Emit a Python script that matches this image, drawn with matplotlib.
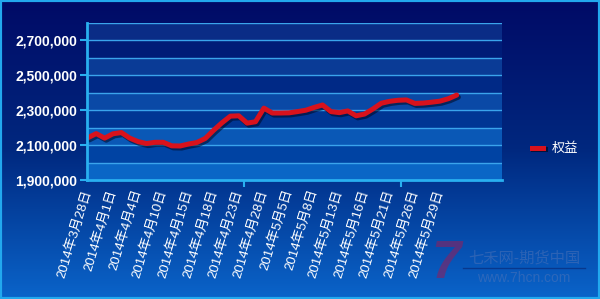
import numpy as np
import matplotlib
matplotlib.use("Agg")
import matplotlib.pyplot as plt
from matplotlib.lines import Line2D
from matplotlib.patches import Rectangle
import matplotlib.patheffects as pe
from matplotlib.colors import LinearSegmentedColormap, to_rgb

plt.rcParams['font.family'] = ['Liberation Sans', 'Noto Sans CJK SC', 'DejaVu Sans']

# ---- data ----
dates = ["2014年3月28日", "2014年3月29日", "2014年3月31日", "2014年4月1日", "2014年4月2日",
         "2014年4月3日", "2014年4月4日", "2014年4月8日", "2014年4月9日", "2014年4月10日",
         "2014年4月11日", "2014年4月14日", "2014年4月15日", "2014年4月16日", "2014年4月17日",
         "2014年4月18日", "2014年4月21日", "2014年4月22日", "2014年4月23日", "2014年4月24日",
         "2014年4月25日", "2014年4月28日", "2014年4月29日", "2014年4月30日", "2014年5月5日",
         "2014年5月6日", "2014年5月7日", "2014年5月8日", "2014年5月9日", "2014年5月12日",
         "2014年5月13日", "2014年5月14日", "2014年5月15日", "2014年5月16日", "2014年5月19日",
         "2014年5月20日", "2014年5月21日", "2014年5月22日", "2014年5月23日", "2014年5月26日",
         "2014年5月27日", "2014年5月28日", "2014年5月29日", "2014年5月30日", "2014年6月3日"]
equity = [2142000, 2166000, 2140000, 2165000, 2172000, 2140000, 2120000, 2109000, 2116000, 2116000,
          2096000, 2095000, 2106000, 2115000, 2138000, 2185000, 2228000, 2266000, 2268000, 2226000,
          2234000, 2312000, 2284000, 2284000, 2285000, 2292000, 2300000, 2316000, 2330000, 2292000,
          2286000, 2296000, 2268000, 2278000, 2307000, 2340000, 2351000, 2357000, 2359000, 2339000,
          2341000, 2346000, 2352000, 2366000, 2387000]
series_name = "权益"
n_categories = 50
label_step = 3
y_min, y_max = 1900000, 2800000
y_major = [1900000, 2100000, 2300000, 2500000, 2700000]

W, H = 600, 299
fig = plt.figure(figsize=(W / 100, H / 100), dpi=100)

# ---- background gradient ----
bg = fig.add_axes([0, 0, 1, 1], zorder=-10)
cmap = LinearSegmentedColormap.from_list("bg", ["#000a66", "#00287f", "#0a64ca"])
grad = np.linspace(0, 1, 256).reshape(-1, 1)
bg.imshow(grad, aspect="auto", cmap=cmap, extent=[0, 1, 0, 1], origin="upper")
bg.set_xlim(0, 1); bg.set_ylim(0, 1)
bg.axis("off")

# ---- main axes ----
ax = fig.add_axes([87 / W, 1 - 180 / H, (502 - 87) / W, (180 - 23) / H])
ax.set_facecolor("none")
ax.set_xlim(-0.1, n_categories - 0.6)
ax.set_ylim(y_min, y_max)

def lerp(c1, c2, t):
    a, b = np.array(to_rgb(c1)), np.array(to_rgb(c2))
    return tuple(a + (b - a) * t)

nb = int((y_max - y_min) / 100000)
for k in range(nb):
    t = k / (nb - 1)
    if k % 2 == 0:
        col = lerp("#0a66c6", "#0a2c86", t)
    else:
        col = lerp("#004aaa", "#001570", t)
    ax.axhspan(y_min + k * 100000, y_min + (k + 1) * 100000, color=col, zorder=0, lw=0)

for k in range(1, nb + 1):
    ax.axhline(y_min + k * 100000, color="#3aa4ec", lw=1.0, zorder=1)

x = np.arange(len(equity))
ax.plot(x, equity, color="#d8121c", lw=3.6, solid_capstyle="round", solid_joinstyle="round",
        zorder=3,
        path_effects=[pe.SimpleLineShadow(offset=(1.2, -1.5), shadow_color="#000820", alpha=0.55),
                      pe.Normal()])

for s in ["top", "right"]:
    ax.spines[s].set_visible(False)
for s in ["left", "bottom"]:
    ax.spines[s].set_color("#29b0f0")
    ax.spines[s].set_linewidth(2)
    ax.spines[s].set_zorder(4)

# y ticks
ax.set_yticks(y_major)
ax.set_yticklabels([f"{v:,}" for v in y_major])
ax.tick_params(axis="y", colors="#29b0f0", length=5, width=1.5, direction="out", pad=2)
for lab in ax.get_yticklabels():
    lab.set_color("white"); lab.set_fontweight("bold"); lab.set_fontsize(10)
    lab.set_family("Liberation Sans")

# x ticks
lab_pos = list(range(0, len(dates), label_step))
ax.set_xticks(lab_pos)
ax.set_xticklabels([dates[i] for i in lab_pos], rotation=73, ha="right", va="center",
                   rotation_mode="anchor", fontsize=9.5, color="white")
ax.tick_params(axis="x", length=0, pad=7)
ax.set_xticks([18.6, 37.4], minor=True)
ax.tick_params(axis="x", which="minor", length=5, width=1.5, colors="#29b0f0", direction="out")
ax.tick_params(axis="y", which="minor", length=0)

# legend
handle = Line2D([0], [0], color="#d8121c", lw=3.6,
                path_effects=[pe.SimpleLineShadow(offset=(1, -1), alpha=0.5), pe.Normal()])
fig.legend([handle], [series_name], loc="center left",
           bbox_to_anchor=(525 / W, 1 - 149 / H), frameon=False,
           handlelength=0.9, handletextpad=0.6, borderpad=0, fontsize=9.5,
           labelcolor="white")

# watermark
fig.text(446 / W, 1 - 264 / H, "7", color="#8a2060", alpha=0.6, fontsize=38,
         fontweight="bold", fontstyle="italic", ha="center", va="center")
fig.text(524 / W, 1 - 258 / H, "七禾网-期货中国", color="#5a78b8", alpha=0.45, fontsize=11,
         ha="center", va="center", family=["Noto Sans CJK SC"])
fig.add_artist(Line2D([463 / W, 585 / W], [1 - 268 / H, 1 - 268 / H], color="#0a2470",
                      alpha=0.6, lw=1))
fig.text(524 / W, 1 - 278 / H, "www.7hcn.com", color="#5a78b8", alpha=0.45, fontsize=10,
         ha="center", va="center")

fig.add_artist(Rectangle((0, 0), 1, 1, transform=fig.transFigure, fill=False,
                         edgecolor="#22a8ee", lw=3, zorder=20))

fig.savefig("out.png", dpi=100)
